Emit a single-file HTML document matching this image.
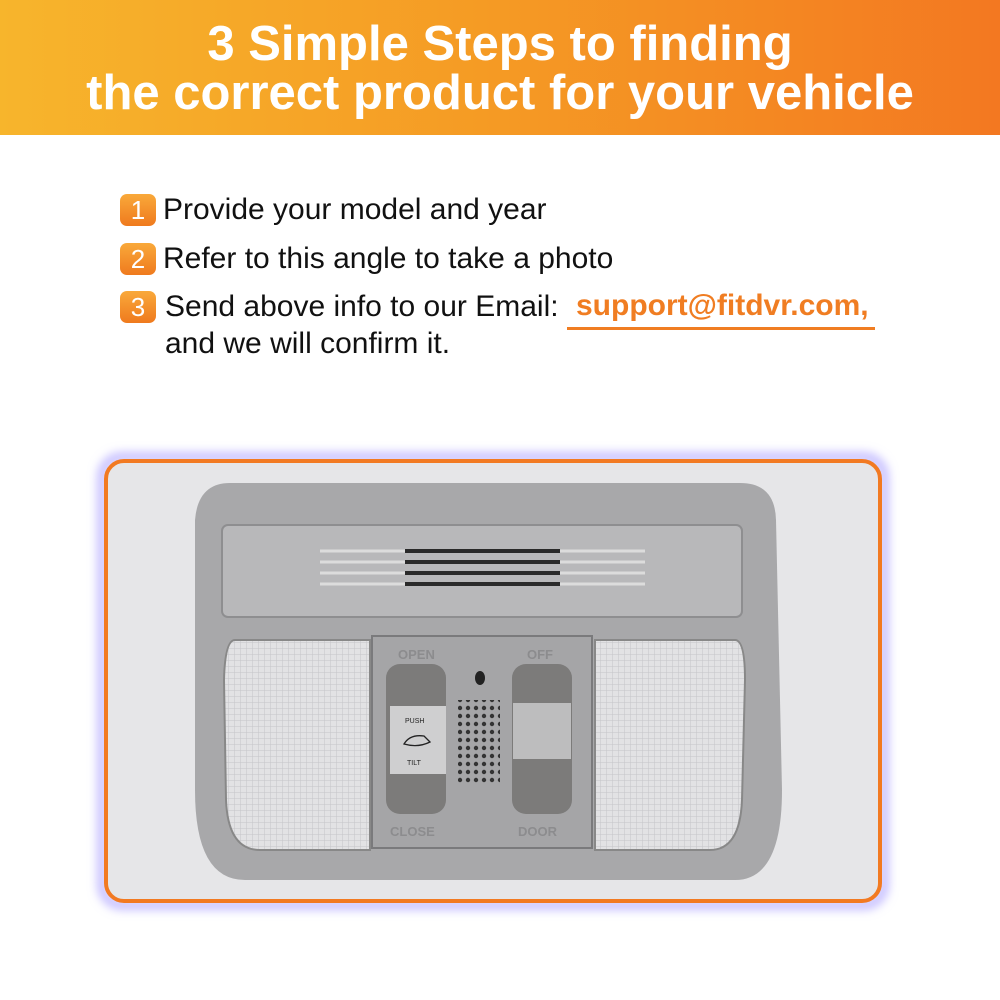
<!DOCTYPE html>
<html><head><meta charset="utf-8"><style>
*{margin:0;padding:0}
body{width:1000px;height:1000px;background:#fff;position:relative;overflow:hidden;font-family:"Liberation Sans",Arial,sans-serif}
.hdr{position:absolute;left:0;top:0;width:1000px;height:135px;background:linear-gradient(90deg,#f7b52c,#f59a24 50%,#f37821)}
.hdr div{position:absolute;left:0;width:1000px;text-align:center;color:#fff;font-weight:bold;font-size:49px;line-height:50px}
.step{position:absolute;font-size:30px;color:#111;white-space:nowrap;line-height:34px}
.num{position:absolute;width:36px;height:32px;border-radius:7px;background:linear-gradient(180deg,#f9a93a,#ef7a1e);color:#fff;font-size:26px;text-align:center;line-height:32px}
</style></head><body>
<div class="hdr"><div style="top:19px">3 Simple Steps to finding</div><div style="top:68px">the correct product for your vehicle</div></div>
<div class="num" style="left:120px;top:194px">1</div><div class="step" style="left:163px;top:193px">Provide your model and year</div>
<div class="num" style="left:120px;top:243px">2</div><div class="step" style="left:163px;top:242px">Refer to this angle to take a photo</div>
<div class="num" style="left:120px;top:291px">3</div><div class="step" style="left:165px;top:290px">Send above info to our Email:</div>
<div class="step" style="left:576px;top:289px;color:#f07d22;font-weight:bold;font-size:30px">support@fitdvr.com,</div>
<div style="position:absolute;left:567px;top:327px;width:308px;height:3px;background:#f07d22"></div>
<div class="step" style="left:165px;top:327px">and we will confirm it.</div>
<svg style="position:absolute;left:0;top:0" width="1000" height="1000">
<defs><filter id="g" x="-10%" y="-10%" width="120%" height="120%"><feGaussianBlur stdDeviation="5"/></filter>
<pattern id="grid" width="6" height="6" patternUnits="userSpaceOnUse"><rect width="6" height="6" fill="#e2e2e4"/><path d="M0 0H6M0 0V6" stroke="#c4c4c8" stroke-width="1"/></pattern>
<pattern id="dots" width="8" height="8" patternUnits="userSpaceOnUse"><circle cx="4" cy="4" r="2.2" fill="#333"/></pattern></defs>
<rect x="102" y="457" width="782" height="448" rx="20" fill="none" stroke="#b9b0ff" stroke-width="8" filter="url(#g)"/>
<rect x="106" y="461" width="774" height="440" rx="18" fill="#e6e6e8" stroke="#f27a22" stroke-width="4"/>
<path d="M230 483 H740 Q775 483 776 520 L782 790 Q782 880 735 880 H245 Q195 880 195 790 L195 520 Q198 483 230 483Z" fill="#a8a8aa"/>
<rect x="222" y="525" width="520" height="92" rx="6" fill="#b8b8ba" stroke="#8e8e90" stroke-width="2"/>
<g stroke="#2a2a2a" stroke-width="4"><line x1="405" y1="551" x2="560" y2="551"/><line x1="405" y1="562" x2="560" y2="562"/><line x1="405" y1="573" x2="560" y2="573"/><line x1="405" y1="584" x2="560" y2="584"/></g>
<g stroke="#dcdcdc" stroke-width="3"><line x1="320" y1="551" x2="405" y2="551"/><line x1="320" y1="562" x2="405" y2="562"/><line x1="320" y1="573" x2="405" y2="573"/><line x1="320" y1="584" x2="405" y2="584"/><line x1="560" y1="551" x2="645" y2="551"/><line x1="560" y1="562" x2="645" y2="562"/><line x1="560" y1="573" x2="645" y2="573"/><line x1="560" y1="584" x2="645" y2="584"/></g>
<path d="M235 640 H370 V850 H260 Q228 850 226 800 L224 680 Q225 640 235 640Z" fill="url(#grid)" stroke="#888" stroke-width="2"/>
<path d="M595 640 H735 Q745 640 745 680 L742 800 Q740 850 710 850 H595Z" fill="url(#grid)" stroke="#888" stroke-width="2"/>
<rect x="372" y="636" width="220" height="212" fill="#a5a5a7" stroke="#7a7a7c" stroke-width="2"/>
<rect x="386" y="664" width="60" height="150" rx="14" fill="#7c7b7a"/>
<rect x="390" y="706" width="56" height="68" fill="#cfcfd0"/>
<rect x="512" y="664" width="60" height="150" rx="14" fill="#7c7b7a"/>
<rect x="513" y="703" width="58" height="56" fill="#bdbdbe"/>
<rect x="458" y="700" width="42" height="84" fill="url(#dots)"/>
<ellipse cx="480" cy="678" rx="5" ry="7" fill="#222"/>
<g font-family="Liberation Sans" font-weight="bold" fill="#8c8c8e" font-size="13"><text x="398" y="659">OPEN</text><text x="527" y="659">OFF</text><text x="390" y="836">CLOSE</text><text x="518" y="836">DOOR</text></g>
<g font-family="Liberation Sans" font-size="7" fill="#222"><text x="405" y="723">PUSH</text><text x="407" y="765">TILT</text></g>
<path d="M404 744 Q410 734 424 736 L430 742 Q418 748 404 744Z" fill="none" stroke="#222" stroke-width="1.3"/>
</svg>
</body></html>
